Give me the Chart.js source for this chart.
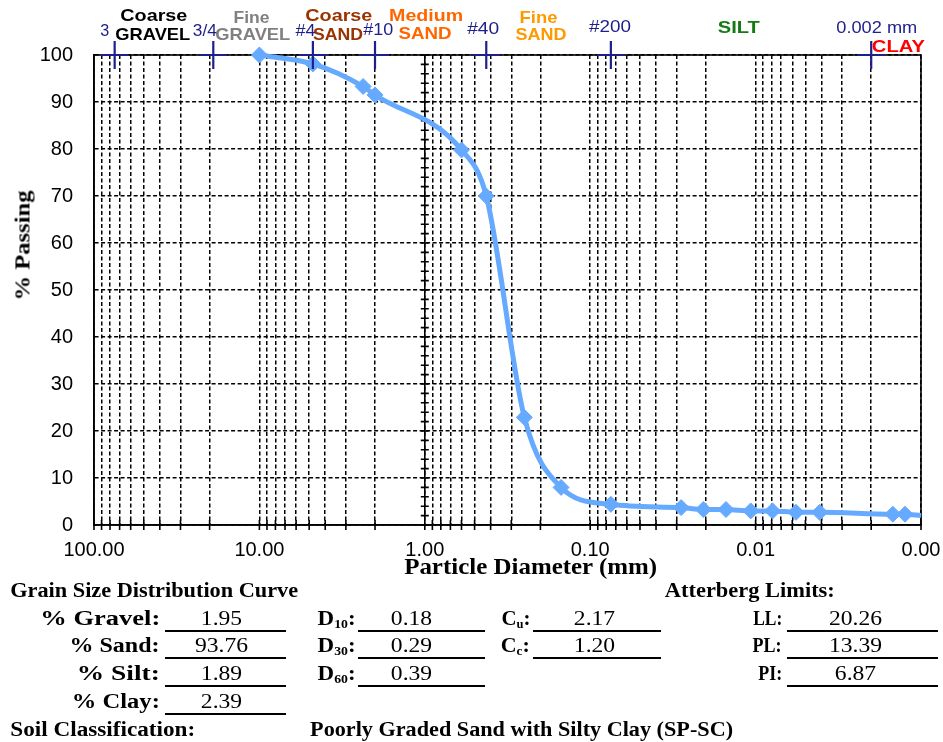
<!DOCTYPE html>
<html>
<head>
<meta charset="utf-8">
<title>Grain Size Distribution Curve</title>
<script src="https://cdn.jsdelivr.net/npm/chart.js@4.4.1/dist/chart.umd.min.js"></script>
<style>
  html, body { margin: 0; padding: 0; background: #fff; }
  #wrap { position: relative; width: 943px; height: 742px; overflow: hidden; }
  #chart { position: absolute; left: 0; top: 0; }
  .txt { position: absolute; white-space: nowrap; line-height: 1; }
  .txt sub { font-size: 0.6em; vertical-align: -0.25em; line-height: 0; }
  .rule { position: absolute; height: 2px; background: #000; }
</style>
</head>
<body>
<div id="wrap">
  <canvas id="chart" width="943" height="742"></canvas>
</div>
<script>
// sieve + hydrometer results (particle diameter in mm, % passing)
const diameters = [10, 4.75, 2.36, 2.0, 0.6, 0.425, 0.25, 0.15, 0.075, 0.0282, 0.0207, 0.0151, 0.0107, 0.0079, 0.0057, 0.0041, 0.00148, 0.00125, 0.001];
const percentPassing = [100, 98.1, 93.3, 91.5, 79.8, 70.0, 22.9, 8.0, 4.4, 3.7, 3.3, 3.3, 3.0, 3.0, 2.7, 2.7, 2.3, 2.3, 2.0];

// standard sieve openings marked along the top of the plot
const sieveOpenings = [75, 19, 4.75, 2.0, 0.425, 0.075, 0.002];
const sieveMarkY = [100, 100, 100, 100, 100, 100, 100];
const sieveNames = ['3', '3/4', '#4', '#10', '#40', '#200', '0.002 mm'];

// soil zones written above the plot
const zoneNames = ['Coarse', 'GRAVEL', 'Fine', 'GRAVEL', 'Coarse', 'SAND', 'Medium', 'SAND', 'Fine', 'SAND', 'SILT', 'CLAY'];

// axes
const xDecades = [100, 10, 1, 0.1, 0.01, 0.001];
const xMinorSteps = [2, 3, 4, 5, 6, 7, 8, 9];
const yTicks = [0, 10, 20, 30, 40, 50, 60, 70, 80, 90, 100];
const yMinorStep = 2;

// summary table
const gradationLabels = ['% Gravel:', '% Sand:', '% Silt:', '% Clay:'];
const gradationValues = ['1.95', '93.76', '1.89', '2.39'];
const dLabels = ['D<sub>10</sub>:', 'D<sub>30</sub>:', 'D<sub>60</sub>:'];
const dValues = ['0.18', '0.29', '0.39'];
const coefLabels = ['C<sub>u</sub>:', 'C<sub>c</sub>:'];
const coefValues = ['2.17', '1.20'];
const limitLabels = ['LL:', 'PL:', 'PI:'];
const limitValues = ['20.26', '13.39', '6.87'];
const soilClass = 'Poorly Graded Sand with Silty Clay (SP-SC)';

const SANS = '"Liberation Sans", Arial, sans-serif';
const SERIF = '"Liberation Serif", "Times New Roman", serif';
const NAVY = '#1f1f8c';
const CURVE = '#66aaff';

// every 1..9 x 10^n between the decades, used for grid and tick marks
const xTickValues = [];
xDecades.forEach(d => {
  xTickValues.push(d);
  if (d < 100) xMinorSteps.forEach(m => xTickValues.push(d * m));
});

const frame = {
  id: 'frame',
  beforeDatasetsDraw(chart) {
    const { ctx, chartArea: a, scales: { x, y } } = chart;
    ctx.save();
    ctx.strokeStyle = '#000';
    ctx.lineWidth = 1.6;
    ctx.strokeRect(a.left, a.top, a.right - a.left, a.bottom - a.top);

    // vertical axis crossing at 1 mm with small ticks
    const x1 = x.getPixelForValue(1);
    ctx.beginPath();
    ctx.moveTo(x1, a.top);
    ctx.lineTo(x1, a.bottom);
    for (let v = 0; v <= 100; v += yMinorStep) {
      const py = y.getPixelForValue(v);
      ctx.moveTo(x1 - 4, py);
      ctx.lineTo(x1 + 4, py);
    }
    // tick marks crossing the bottom axis
    xTickValues.forEach(v => {
      const px = x.getPixelForValue(v);
      ctx.moveTo(px, a.bottom - 5);
      ctx.lineTo(px, a.bottom + 5);
    });
    ctx.stroke();
    ctx.restore();
  }
};

const ctx = document.getElementById('chart').getContext('2d');
const chart = new Chart(ctx, {
  type: 'scatter',
  data: {
    datasets: [
      {
        label: 'Sieves',
        data: sieveOpenings.map((s, i) => ({ x: s, y: sieveMarkY[i] })),
        showLine: false,
        pointStyle: 'cross',
        pointRadius: 14,
        pointBorderWidth: 2.2,
        borderColor: NAVY,
        backgroundColor: NAVY,
        clip: false,
        order: 0
      },
      {
        label: '% Passing',
        data: diameters.map((d, i) => ({ x: d, y: percentPassing[i] })),
        showLine: true,
        borderColor: CURVE,
        backgroundColor: CURVE,
        borderWidth: 5,
        cubicInterpolationMode: 'monotone',
        pointStyle: 'rectRot',
        pointRadius: c => (c.raw && c.raw.x > 0.001 ? 8 : 0),
        pointBorderWidth: 1,
        pointBackgroundColor: CURVE,
        pointBorderColor: CURVE,
        clip: false,
        order: 1
      }
    ]
  },
  options: {
    responsive: false,
    animation: false,
    layout: { padding: { top: 55, right: 22, left: 0, bottom: 0 } },
    plugins: {
      legend: { display: false },
      tooltip: { enabled: false }
    },
    scales: {
      x: {
        type: 'logarithmic',
        position: 'bottom',
        reverse: true,
        min: 0.001,
        max: 100,
        afterBuildTicks: s => { s.ticks = xTickValues.map(v => ({ value: v })); },
        afterFit: s => { s.height = 217; s.paddingLeft = 0; s.paddingRight = 0; },
        ticks: {
          autoSkip: false,
          maxRotation: 0,
          padding: 13,
          color: '#000',
          font: { family: SANS, size: 20 },
          callback: v => {
            const lg = Math.log10(v);
            return Math.abs(lg - Math.round(lg)) < 1e-6 ? Number(v).toFixed(2) : '';
          }
        },
        grid: { color: '#000', lineWidth: 1.5, drawTicks: false },
        border: { display: true, color: '#000', width: 1.6, dash: [4, 2.5] }
      },
      y: {
        min: 0,
        max: 100,
        afterBuildTicks: s => { s.ticks = yTicks.map(v => ({ value: v })); },
        afterFit: s => { s.width = 94; s.paddingTop = 0; s.paddingBottom = 0; },
        ticks: {
          padding: 21,
          color: '#000',
          font: { family: SANS, size: 20 }
        },
        grid: { color: '#000', lineWidth: 1.5, drawTicks: false },
        border: { display: true, color: '#000', width: 1.6, dash: [4, 2.5] }
      }
    }
  },
  plugins: [frame]
});

// ---- text around the plot (real DOM text) ----
const wrap = document.getElementById('wrap');

// place text centred at yc; either fitted between x1..x2 or centred at cx with scale sx
function place(html, font, color, yc, opt) {
  const el = document.createElement('div');
  el.className = 'txt';
  el.innerHTML = html;
  el.style.font = font;
  el.style.color = color;
  wrap.appendChild(el);
  const r = el.getBoundingClientRect();
  let sx = opt.sx || 1;
  let cx = opt.cx;
  if (opt.x1 !== undefined) {
    sx = (opt.x2 - opt.x1) / r.width;
    cx = (opt.x1 + opt.x2) / 2;
  }
  if (opt.len) sx = opt.len / r.width;
  el.style.left = (cx - r.width / 2) + 'px';
  el.style.top = (yc - r.height / 2) + 'px';
  el.style.transform = (opt.rotate ? 'rotate(' + opt.rotate + 'deg) ' : '') + 'scaleX(' + sx + ')';
}

function rule(x1, x2, y) {
  const el = document.createElement('div');
  el.className = 'rule';
  el.style.left = x1 + 'px';
  el.style.width = (x2 - x1) + 'px';
  el.style.top = (y - 1) + 'px';
  wrap.appendChild(el);
}

// zone names: [x1, x2, yc, colour] per entry of zoneNames
const zoneLayout = [
  [120, 187, 16, '#000000'], [115, 190, 34.5, '#000000'],
  [233, 269, 17.5, '#808080'], [215, 290, 34.5, '#808080'],
  [305, 372, 16, '#993300'], [313, 363, 35, '#993300'],
  [389, 463, 16, '#ff6600'], [399, 452, 33.5, '#ff6600'],
  [519, 557, 17.5, '#ff9900'], [516, 567, 34.5, '#ff9900'],
  [718, 760, 28, '#157a15'],
  [872, 925, 47, '#ff0000']
];
zoneNames.forEach((t, i) => {
  const [x1, x2, yc, col] = zoneLayout[i];
  place(t, 'bold 17px ' + SANS, col, yc, { x1, x2 });
});

const sieveLayout = [[100, 109, 30.5], [193, 217, 30.5], [295, 315, 30.5], [363, 393, 30], [467, 499, 28.5], [589, 631, 27], [836, 917, 28]];
sieveNames.forEach((t, i) => {
  const [x1, x2, yc] = sieveLayout[i];
  place(t, '17px ' + SANS, NAVY, yc, { x1, x2 });
});

// axis titles
place('% Passing', 'bold 21px ' + SERIF, '#000', 245, { cx: 23, len: 110, rotate: -90 });
place('Particle Diameter (mm)', 'bold 23px ' + SERIF, '#000', 567, { x1: 404, x2: 657 });

// summary table
const LBL = 'bold 20px ' + SERIF;
const VAL = '20px ' + SERIF;
const rowY = [618.5, 645.5, 673, 701];
const ruleY = [631, 658, 686, 714];

place('Grain Size Distribution Curve', LBL, '#000', 590, { x1: 10, x2: 298 });
place('Atterberg Limits:', LBL, '#000', 590, { x1: 665, x2: 835 });

const gradLeft = [40, 70, 77, 72];
gradationLabels.forEach((t, i) => {
  place(t, LBL, '#000', rowY[i], { x1: gradLeft[i], x2: 160 });
  place(gradationValues[i], VAL, '#000', rowY[i], { cx: 221, sx: 1.18 });
  rule(165, 286, ruleY[i]);
});
dLabels.forEach((t, i) => {
  place(t, LBL, '#000', rowY[i], { x1: 318, x2: 356 });
  place(dValues[i], VAL, '#000', rowY[i], { cx: 411, sx: 1.18 });
  rule(358, 485, ruleY[i]);
});
coefLabels.forEach((t, i) => {
  place(t, LBL, '#000', rowY[i], { x1: 501, x2: 530 });
  place(coefValues[i], VAL, '#000', rowY[i], { cx: 594, sx: 1.18 });
  rule(533, 661, ruleY[i]);
});
const limLeft = [753, 753, 758];
limitLabels.forEach((t, i) => {
  place(t, LBL, '#000', rowY[i], { x1: limLeft[i], x2: 782 });
  place(limitValues[i], VAL, '#000', rowY[i], { cx: 855, sx: 1.18 });
  rule(787, 938, ruleY[i]);
});

place('Soil Classification:', LBL, '#000', 729, { x1: 10, x2: 195 });
place(soilClass, LBL, '#000', 729, { x1: 310, x2: 733 });
</script>
</body>
</html>
